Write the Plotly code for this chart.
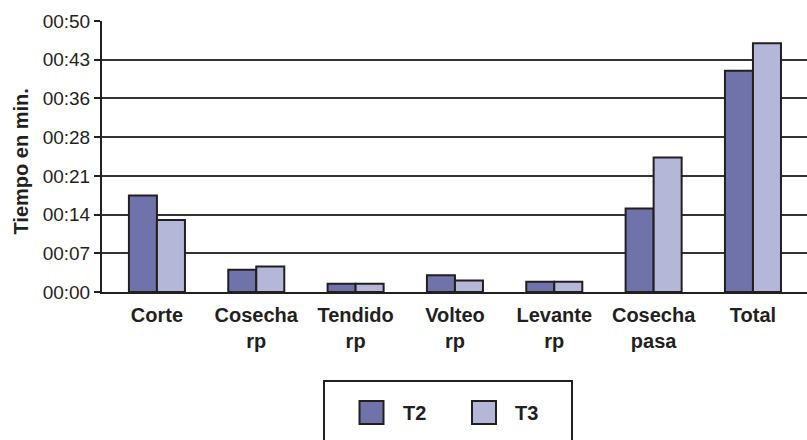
import plotly.graph_objects as go

# Tiempo por operación (minutos) para los tratamientos T2 y T3
categorias = ["Corte", "Cosecha<br>rp", "Tendido<br>rp", "Volteo<br>rp",
              "Levante<br>rp", "Cosecha<br>pasa", "Total"]
t2_min = [17.8, 4.1, 1.5, 3.1, 1.9, 15.4, 40.8]
t3_min = [13.3, 4.7, 1.5, 2.1, 1.9, 24.8, 45.9]
series_nombres = ["T2", "T3"]
series_colores = ["#6f73a9", "#b4b7d7"]

# Eje en formato hh:mm con paso de 50/7 minutos
y_max = 50
y_tickvals = [y_max * k / 7 for k in range(8)]
y_ticktext = ["00:00", "00:07", "00:14", "00:21", "00:28", "00:36", "00:43", "00:50"]

W, H = 807, 440
ML, MR, MT, MB = 102, 0, 21, 148
PW, PH = W - ML - MR, H - MT - MB

def px_x(px):
    return (px - ML) / PW

def px_y(py):
    return (H - MB - py) / PH

OUTLINE = "#231f20"
FONT = "Liberation Sans, Arial, sans-serif"

fig = go.Figure()
for nombre, valores, color in zip(series_nombres, [t2_min, t3_min], series_colores):
    fig.add_trace(go.Bar(
        x=list(range(len(categorias))), y=valores, name=nombre,
        marker=dict(color=color, line=dict(color=OUTLINE, width=2)),
        showlegend=False,
    ))

shapes = []
annotations = []

# Recuadro de la leyenda
shapes.append(dict(type="rect", xref="paper", yref="paper",
                   x0=px_x(324), x1=px_x(572), y0=px_y(470), y1=px_y(381),
                   line=dict(color=OUTLINE, width=2), fillcolor="rgba(0,0,0,0)"))
sw_left = [359.5, 472]
txt_left = [401, 513]
for nombre, color, sx, tx in zip(series_nombres, series_colores, sw_left, txt_left):
    shapes.append(dict(type="rect", xref="paper", yref="paper",
                       x0=px_x(sx), x1=px_x(sx + 24), y0=px_y(424), y1=px_y(401),
                       line=dict(color=OUTLINE, width=2), fillcolor=color))
    annotations.append(dict(text=nombre, xref="paper", yref="paper",
                            x=px_x(tx), y=px_y(413), xanchor="left", yanchor="middle",
                            showarrow=False,
                            font=dict(family=FONT, size=20, color="#231f20",
                                      weight="bold")))

# Título del eje vertical
annotations.append(dict(text="<b>Tiempo en min.</b>", xref="paper", yref="paper",
                        x=px_x(20), y=px_y(161.5), textangle=-90,
                        xanchor="center", yanchor="middle", showarrow=False,
                        font=dict(family=FONT, size=20, color="#231f20")))

fig.update_layout(
    width=W, height=H,
    margin=dict(l=ML, r=MR, t=MT, b=MB),
    paper_bgcolor="white", plot_bgcolor="white",
    barmode="group", bargap=0.436, bargroupgap=0,
    shapes=shapes, annotations=annotations,
    font=dict(family=FONT, color="#231f20"),
)
fig.update_xaxes(
    range=[-0.553, 6.544],
    tickmode="array", tickvals=list(range(len(categorias))), ticktext=categorias,
    tickfont=dict(family=FONT, size=20, color="#231f20", weight="bold"),
    ticklabelstandoff=4,
    showline=True, linecolor=OUTLINE, linewidth=2,
    showgrid=False, ticks="", zeroline=False,
)
fig.update_yaxes(
    range=[0, y_max],
    tickmode="array", tickvals=y_tickvals, ticktext=y_ticktext,
    tickfont=dict(family=FONT, size=19, color="#231f20"),
    showline=True, linecolor=OUTLINE, linewidth=2,
    ticks="outside", ticklen=6, tickwidth=2, tickcolor=OUTLINE,
    showgrid=True, gridcolor="#333333", gridwidth=2, zeroline=False,
)

fig.write_html("out.html")
